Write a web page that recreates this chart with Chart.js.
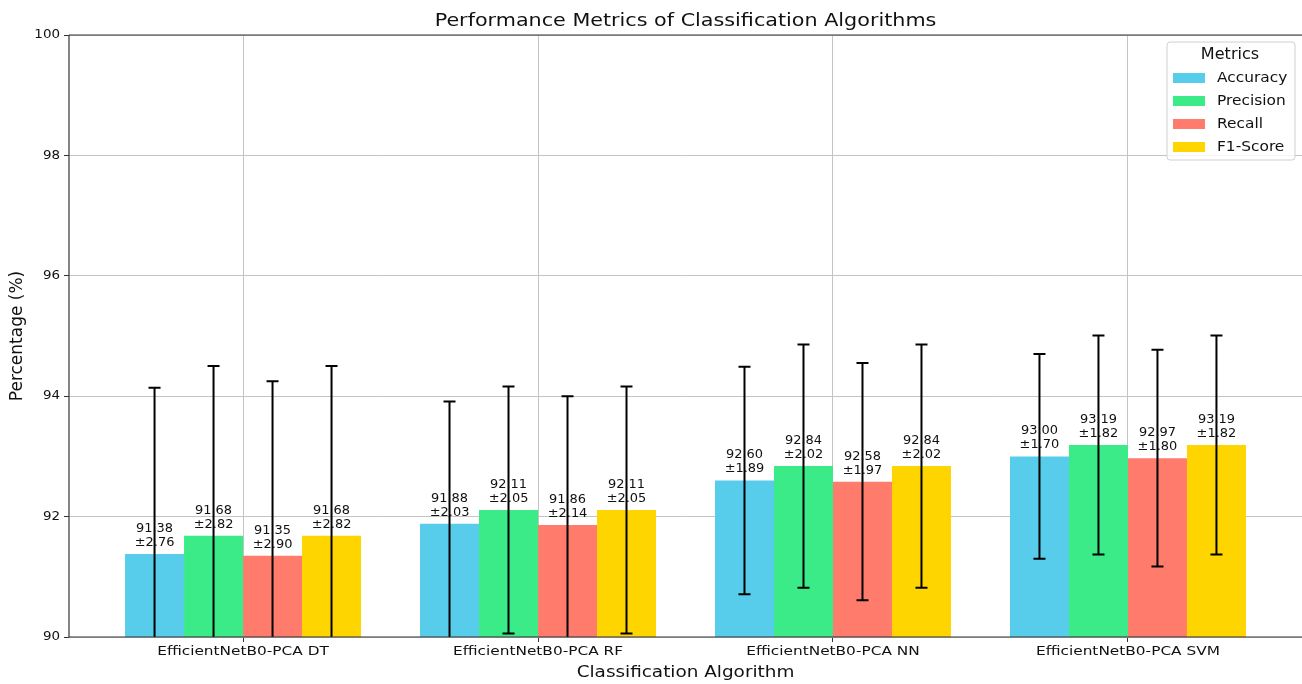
<!DOCTYPE html>
<html>
<head>
<meta charset="utf-8">
<script src="https://cdn.jsdelivr.net/npm/chart.js@4.4.1/dist/chart.umd.min.js"></script>
<style>
  body { margin: 0; background: #fff; }
  canvas { display: block; }
</style>
</head>
<body>
<canvas id="perfChart" width="1302" height="684"></canvas>
<script>
const categories = [
  "EfficientNetB0-PCA DT",
  "EfficientNetB0-PCA RF",
  "EfficientNetB0-PCA NN",
  "EfficientNetB0-PCA SVM",
];
const metricNames = ["Accuracy", "Precision", "Recall", "F1-Score"];
const accuracy = [91.38, 91.88, 92.60, 93.00];
const accuracyStd = [2.76, 2.03, 1.89, 1.70];
const precision = [91.68, 92.11, 92.84, 93.19];
const precisionStd = [2.82, 2.05, 2.02, 1.82];
const recall = [91.35, 91.86, 92.58, 92.97];
const recallStd = [2.90, 2.14, 1.97, 1.80];
const f1score = [91.68, 92.11, 92.84, 93.19];
const f1scoreStd = [2.82, 2.05, 2.02, 1.82];
const yTicks = [90, 92, 94, 96, 98, 100];

const barColors = ["#57CDEB", "#3BEB87", "#FF7B6B", "#FFD500"];
const FONT = "'DejaVu Sans', sans-serif";

const seriesValues = [accuracy, precision, recall, f1score];
const seriesStd = [accuracyStd, precisionStd, recallStd, f1scoreStd];

const datasets = metricNames.map((name, i) => ({
  label: name,
  data: seriesValues[i].map((v, j) => ({ x: j, y: v })),
  std: seriesStd[i],
  backgroundColor: barColors[i],
  borderWidth: 0,
  categoryPercentage: 0.8,
  barPercentage: 1.0,
}));

// text drawn a bit wider than the font, the reference is stretched sideways
function wideText(ctx, text, x, y, size, sx, align, baseline) {
  ctx.save();
  ctx.font = size + "px " + FONT;
  ctx.textAlign = align || "center";
  ctx.textBaseline = baseline || "middle";
  ctx.translate(x, y);
  ctx.scale(sx, 1);
  ctx.fillText(text, 0, 0);
  ctx.restore();
}

const extras = {
  id: "extras",
  afterDatasetsDraw(chart) {
    const ctx = chart.ctx;
    const area = chart.chartArea;
    const yScale = chart.scales.y;

    // error bars, clipped to the plot area
    ctx.save();
    ctx.beginPath();
    ctx.rect(area.left, area.top, area.right - area.left, area.bottom - area.top);
    ctx.clip();
    ctx.strokeStyle = "#000";
    ctx.lineWidth = 2;
    chart.data.datasets.forEach((ds, i) => {
      const meta = chart.getDatasetMeta(i);
      meta.data.forEach((bar, j) => {
        const v = ds.data[j].y;
        const s = ds.std[j];
        const yTop = yScale.getPixelForValue(v + s);
        const yBot = yScale.getPixelForValue(v - s);
        ctx.beginPath();
        ctx.moveTo(bar.x, yTop);
        ctx.lineTo(bar.x, yBot);
        ctx.moveTo(bar.x - 6, yTop);
        ctx.lineTo(bar.x + 6, yTop);
        ctx.moveTo(bar.x - 6, yBot);
        ctx.lineTo(bar.x + 6, yBot);
        ctx.stroke();
      });
    });
    ctx.restore();

    // value labels
    ctx.fillStyle = "#111";
    chart.data.datasets.forEach((ds, i) => {
      const meta = chart.getDatasetMeta(i);
      meta.data.forEach((bar, j) => {
        const v = ds.data[j].y;
        const s = ds.std[j];
        wideText(ctx, "±" + s.toFixed(2), bar.x, bar.y - 8, 12, 1.08, "center", "alphabetic");
        wideText(ctx, v.toFixed(2), bar.x, bar.y - 22, 12, 1.08, "center", "alphabetic");
      });
    });
  },
  afterDraw(chart) {
    const ctx = chart.ctx;
    const area = chart.chartArea;
    const xScale = chart.scales.x;
    const yScale = chart.scales.y;
    ctx.save();

    // spines
    ctx.strokeStyle = "#333";
    ctx.lineWidth = 1.2;
    ctx.beginPath();
    ctx.moveTo(area.left, area.top);
    ctx.lineTo(area.right, area.top);
    ctx.moveTo(area.left, area.top);
    ctx.lineTo(area.left, area.bottom);
    ctx.lineTo(area.right, area.bottom);
    ctx.stroke();

    ctx.fillStyle = "#111";

    // tick labels
    categories.forEach((c, i) => {
      wideText(ctx, c, xScale.getPixelForValue(i), 652, 13, 1.18);
    });
    yTicks.forEach((v) => {
      wideText(ctx, String(v), area.left - 9, yScale.getPixelForValue(v), 12, 1.12, "right");
    });

    // titles
    const cx = (area.left + area.right) / 2;
    wideText(ctx, "Performance Metrics of Classification Algorithms", cx, 21, 18, 1.15);
    wideText(ctx, "Classification Algorithm", cx, 673, 16, 1.15);
    ctx.save();
    ctx.translate(18, (area.top + area.bottom) / 2);
    ctx.rotate(-Math.PI / 2);
    ctx.font = "17px " + FONT;
    ctx.textAlign = "center";
    ctx.textBaseline = "middle";
    ctx.fillText("Percentage (%)", 0, 0);
    ctx.restore();

    // legend
    const lx = 1167, ly = 42, lw = 128, lh = 118;
    ctx.fillStyle = "rgba(255,255,255,0.85)";
    ctx.strokeStyle = "#d0d0d0";
    ctx.lineWidth = 1;
    ctx.beginPath();
    ctx.roundRect(lx, ly, lw, lh, 3);
    ctx.fill();
    ctx.stroke();
    ctx.fillStyle = "#111";
    wideText(ctx, "Metrics", lx + lw / 2 - 1, ly + 13, 15, 1.07);
    chart.data.datasets.forEach((ds, i) => {
      const cy = ly + 36 + i * 23;
      ctx.fillStyle = ds.backgroundColor;
      ctx.fillRect(lx + 6, cy - 5, 32, 10);
      ctx.fillStyle = "#111";
      wideText(ctx, ds.label, lx + 50, cy, 14, 1.1, "left");
    });

    ctx.restore();
  },
};

new Chart(document.getElementById("perfChart").getContext("2d"), {
  type: "bar",
  data: { datasets },
  options: {
    responsive: false,
    animation: false,
    layout: { padding: { top: 35, right: 0, left: 0, bottom: 0 } },
    plugins: {
      legend: { display: false },
      title: { display: false },
      tooltip: { enabled: false },
    },
    scales: {
      x: {
        type: "linear",
        min: -0.59,
        max: 3.59,
        offset: false,
        afterBuildTicks: (scale) => {
          scale.ticks = categories.map((c, i) => ({ value: i }));
        },
        afterFit: (scale) => { scale.height = 47; },
        ticks: { display: false },
        grid: { offset: false, color: "#c4c4c4", lineWidth: 1, tickLength: 5, tickColor: "#333" },
        border: { display: false },
      },
      y: {
        min: 90,
        max: 100,
        afterBuildTicks: (scale) => {
          scale.ticks = yTicks.map((v) => ({ value: v }));
        },
        afterFit: (scale) => { scale.width = 69; },
        ticks: { display: false },
        grid: { color: "#c4c4c4", lineWidth: 1, tickLength: 5, tickColor: "#333" },
        border: { display: false },
      },
    },
  },
  plugins: [extras],
});
</script>
</body>
</html>
